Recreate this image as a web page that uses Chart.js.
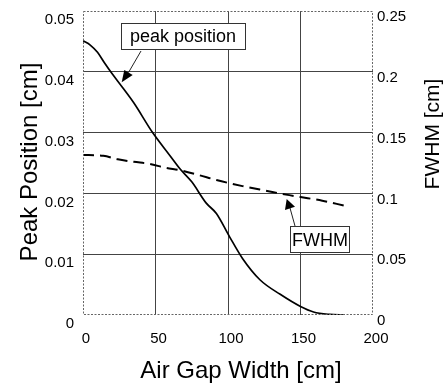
<!DOCTYPE html>
<html lang="en">
<head>
  <meta charset="UTF-8" />
  <title>Peak Position and FWHM vs Air Gap Width</title>
  <script src="https://cdn.jsdelivr.net/npm/chart.js@4.4.1/dist/chart.umd.min.js"></script>
  <style>
    html, body { margin: 0; padding: 0; background: #fff; }
    #wrap { position: relative; width: 445px; height: 389px; }
  </style>
</head>
<body>
  <div id="wrap"><canvas id="c" width="445" height="389"></canvas></div>

  <script>
    // data
    const peakGap = [0, 5, 10, 15, 20, 27, 35, 48, 60, 67, 75, 85, 92, 101, 110, 122, 136, 150, 159, 170, 180];
    const peakPos = [0.0451, 0.0444, 0.0432, 0.0414, 0.0397, 0.0375, 0.0349, 0.0300, 0.0262, 0.0240, 0.0219, 0.0184, 0.0167, 0.0129, 0.0093, 0.0058, 0.0034, 0.0014, 0.0005, 0.0001, 0];
    const fwhmGap = [0, 14, 24, 35, 47, 57, 67, 80, 92, 110, 127, 140, 150, 165, 180];
    const fwhm = [0.1316, 0.131, 0.128, 0.126, 0.124, 0.121, 0.119, 0.115, 0.111, 0.106, 0.102, 0.099, 0.097, 0.094, 0.090];

    const xTickLabels = ['0', '50', '100', '150', '200'];
    const leftTickLabels = ['0', '0.01', '0.02', '0.03', '0.04', '0.05'];
    const rightTickLabels = ['0', '0.05', '0.1', '0.15', '0.2', '0.25'];

    const FONT = '"Liberation Sans", Arial, sans-serif';
    const gridCol = '#444';

    // grid inside only, frame drawn dotted by the plugin
    const innerGrid = ctx => (ctx.index === 0 || ctx.index === 5 || ctx.index === 4 && ctx.scale.axis === 'x') ? 'rgba(0,0,0,0)' : gridCol;

    function arrow(ctx, x1, y1, bx, by, tip, c1, c2) {
      ctx.beginPath();
      ctx.moveTo(x1, y1);
      ctx.lineTo(bx, by);
      ctx.stroke();
      ctx.beginPath();
      ctx.moveTo(tip[0], tip[1]);
      ctx.lineTo(c1[0], c1[1]);
      ctx.lineTo(c2[0], c2[1]);
      ctx.closePath();
      ctx.fill();
    }

    const decor = {
      id: 'decor',
      afterDraw(chart) {
        const { ctx, chartArea: a } = chart;
        ctx.save();
        // dotted frame
        ctx.strokeStyle = '#666';
        ctx.lineWidth = 1;
        ctx.setLineDash([2, 1.5]);
        ctx.strokeRect(a.left + 0.5, a.top + 0.5, a.right - a.left - 1, a.bottom - a.top - 1);
        ctx.setLineDash([]);

        // axis titles
        ctx.fillStyle = '#000';
        ctx.font = '24px ' + FONT;
        ctx.textAlign = 'center';
        ctx.textBaseline = 'alphabetic';
        ctx.fillText('Air Gap Width [cm]', 241, 378);

        ctx.save();
        ctx.translate(37, 162);
        ctx.rotate(-Math.PI / 2);
        ctx.fillText('Peak Position [cm]', 0, 0);
        ctx.restore();

        ctx.save();
        ctx.font = '21px ' + FONT;
        ctx.translate(439, 134);
        ctx.rotate(-Math.PI / 2);
        ctx.fillText('FWHM [cm]', 0, 0);
        ctx.restore();

        // labels with boxes
        ctx.font = '18px ' + FONT;
        ctx.lineWidth = 1;
        ctx.strokeStyle = '#333';
        ctx.fillStyle = '#fff';
        ctx.fillRect(121, 23, 124, 26);
        ctx.strokeRect(121.5, 23.5, 124, 26);
        ctx.fillRect(290, 226, 59, 26);
        ctx.strokeRect(290.5, 226.5, 59, 26);
        ctx.fillStyle = '#000';
        ctx.fillText('peak position', 183, 42);
        ctx.fillText('FWHM', 320, 246);

        // arrows
        ctx.strokeStyle = '#222';
        ctx.fillStyle = '#000';
        ctx.lineWidth = 1;
        arrow(ctx, 141, 51, 128.5, 72.5, [121.7, 82.3], [124.3, 70], [132.7, 75]);
        arrow(ctx, 295, 226, 290, 208, [286.7, 199], [285, 210], [295, 206.7]);
        ctx.restore();
      }
    };

    new Chart(document.getElementById('c'), {
      type: 'line',
      data: {
        datasets: [
          {
            label: 'peak position',
            data: peakGap.map((x, i) => ({ x, y: peakPos[i] })),
            yAxisID: 'y',
            borderColor: '#000',
            borderWidth: 1.7,
            pointRadius: 0,
            cubicInterpolationMode: 'monotone'
          },
          {
            label: 'FWHM',
            data: fwhmGap.map((x, i) => ({ x, y: fwhm[i] })),
            yAxisID: 'y2',
            borderColor: '#000',
            borderWidth: 2,
            borderDash: [11, 6],
            pointRadius: 0,
            cubicInterpolationMode: 'monotone'
          }
        ]
      },
      options: {
        responsive: false,
        animation: false,
        layout: { padding: { top: 11, left: 0, right: 0, bottom: 0 } },
        plugins: { legend: { display: false }, tooltip: { enabled: false } },
        scales: {
          x: {
            type: 'linear',
            min: 0, max: 200,
            afterFit: s => { s.height = 74; s.paddingLeft = 0; s.paddingRight = 0; },
            border: { display: false },
            grid: { color: innerGrid, lineWidth: 1, drawTicks: false },
            ticks: {
              stepSize: 50,
              padding: 15,
              labelOffset: 3,
              maxRotation: 0,
              color: '#000',
              font: { family: FONT, size: 15 },
              callback: (v, i) => xTickLabels[i]
            }
          },
          y: {
            position: 'left',
            min: 0, max: 0.05,
            afterFit: s => { s.width = 83; s.paddingTop = 0; s.paddingBottom = 0; },
            border: { display: false },
            grid: { color: innerGrid, lineWidth: 1, drawTicks: false },
            ticks: {
              stepSize: 0.01,
              padding: 9,
              labelOffset: 9,
              color: '#000',
              font: { family: FONT, size: 15 },
              callback: (v, i) => leftTickLabels[i]
            }
          },
          y2: {
            position: 'right',
            min: 0, max: 0.25,
            afterFit: s => { s.width = 72; s.paddingTop = 0; s.paddingBottom = 0; },
            border: { display: false },
            grid: { display: false, drawTicks: false },
            ticks: {
              stepSize: 0.05,
              padding: 4,
              labelOffset: 6,
              color: '#000',
              font: { family: FONT, size: 15 },
              callback: (v, i) => rightTickLabels[i]
            }
          }
        }
      },
      plugins: [decor]
    });
  </script>
</body>
</html>
